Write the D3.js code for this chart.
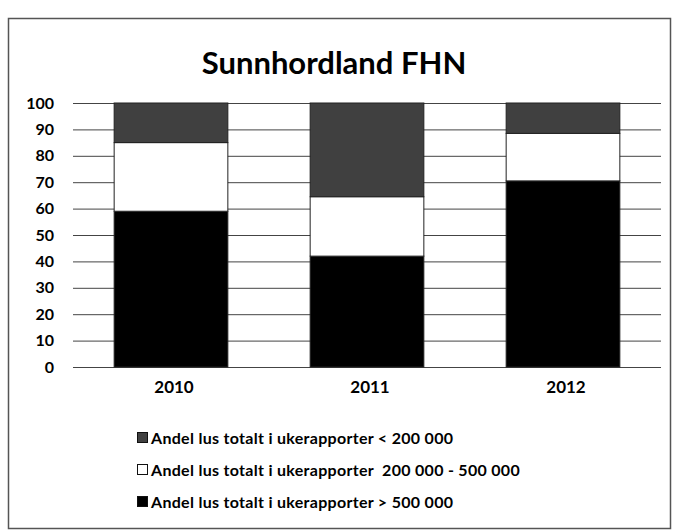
<!DOCTYPE html>
<html>
<head>
<meta charset="utf-8">
<script src="https://cdn.jsdelivr.net/npm/d3@7"></script>
<style>
  body { margin: 0; background: #fff; }
  text { font-family: Lato, "Open Sans", sans-serif; }
</style>
</head>
<body>
<div id="chart"></div>
<script>
// data
var years = ["2010", "2011", "2012"];
var over500 = [59, 42, 70.5];      // black, bottom
var mid200to500 = [26, 22.5, 18];  // white, middle
var under200 = [15, 35.5, 11.5];   // dark grey, top
var yTicks = [0, 10, 20, 30, 40, 50, 60, 70, 80, 90, 100];
var seriesNames = [
    "Andel lus totalt i ukerapporter < 200 000",
    "Andel lus totalt i ukerapporter  200 000 - 500 000",
    "Andel lus totalt i ukerapporter > 500 000"
];

var W = 673, H = 530;
var margin = {top: 103, left: 73, right: 12, bottom: 163};
var width = W - margin.left - margin.right,
    height = H - margin.top - margin.bottom;

var svg = d3.select("#chart").append("svg")
    .attr("width", W)
    .attr("height", H);

// outer frame
svg.append("rect")
    .attr("x", 8.5).attr("y", 18.5)
    .attr("width", 662).attr("height", 510)
    .attr("fill", "none")
    .attr("stroke", "#555")
    .attr("stroke-width", 1.5);

svg.append("text")
    .attr("x", 334).attr("y", 74)
    .attr("text-anchor", "middle")
    .style("font-size", "31px")
    .style("font-weight", "bold")
    .text("Sunnhordland FHN");

var g = svg.append("g")
    .attr("transform", "translate(" + margin.left + "," + margin.top + ")");

var x = d3.scaleBand()
    .domain(years)
    .range([0, width])
    .paddingInner(0.42)
    .paddingOuter(0.21);

var y = d3.scaleLinear()
    .domain([0, 100])
    .range([height, 0]);

// gridlines
g.append("g")
    .selectAll("line")
    .data(yTicks)
    .enter()
    .append("line")
    .attr("x1", 0).attr("x2", width)
    .attr("y1", function (d) { return y(d) + 0.5; })
    .attr("y2", function (d) { return y(d) + 0.5; })
    .attr("stroke", "#444")
    .attr("stroke-width", 1);

// y axis labels
var yAxis = g.append("g")
    .call(d3.axisLeft(y).tickValues(yTicks).tickSize(0).tickPadding(19));
yAxis.select(".domain").remove();
yAxis.selectAll("text")
    .style("font-size", "16px")
    .style("font-weight", "bold")
    .attr("fill", "#000");

// x axis labels
var xAxis = g.append("g")
    .attr("transform", "translate(0," + height + ")")
    .call(d3.axisBottom(x).tickSize(0).tickPadding(14));
xAxis.select(".domain").remove();
xAxis.selectAll("text")
    .style("font-size", "17px")
    .style("font-weight", "bold")
    .attr("dx", "3")
    .attr("fill", "#000");

// stacked bars
var rows = years.map(function (yr, i) {
    return {year: yr, over: over500[i], mid: mid200to500[i], under: under200[i]};
});
var keys = ["over", "mid", "under"];
var colors = {over: "#000", mid: "#fff", under: "#404040"};
var stacked = d3.stack().keys(keys)(rows);

g.append("g")
    .selectAll("g")
    .data(stacked)
    .enter()
    .append("g")
    .attr("fill", function (d) { return colors[d.key]; })
    .selectAll("rect")
    .data(function (d) { return d; })
    .enter()
    .append("rect")
    .attr("x", function (d) { return x(d.data.year); })
    .attr("y", function (d) { return y(d[1]); })
    .attr("width", x.bandwidth())
    .attr("height", function (d) { return y(d[0]) - y(d[1]); })
    .attr("stroke", "#222")
    .attr("stroke-width", 1);

// legend
var legendColors = ["#404040", "#fff", "#000"];
var legend = svg.append("g")
    .selectAll("g")
    .data(seriesNames)
    .enter()
    .append("g")
    .attr("transform", function (d, i) { return "translate(137," + (438 + i * 32) + ")"; });

legend.append("rect")
    .attr("x", 0.5).attr("y", -5.5)
    .attr("width", 10).attr("height", 10)
    .attr("fill", function (d, i) { return legendColors[i]; })
    .attr("stroke", "#111");

legend.append("text")
    .attr("x", 14).attr("y", 5.5)
    .style("font-size", "16px")
    .style("font-weight", "bold")
    .style("letter-spacing", "0.3px")
    .style("white-space", "pre")
    .text(function (d) { return d; });
</script>
</body>
</html>
